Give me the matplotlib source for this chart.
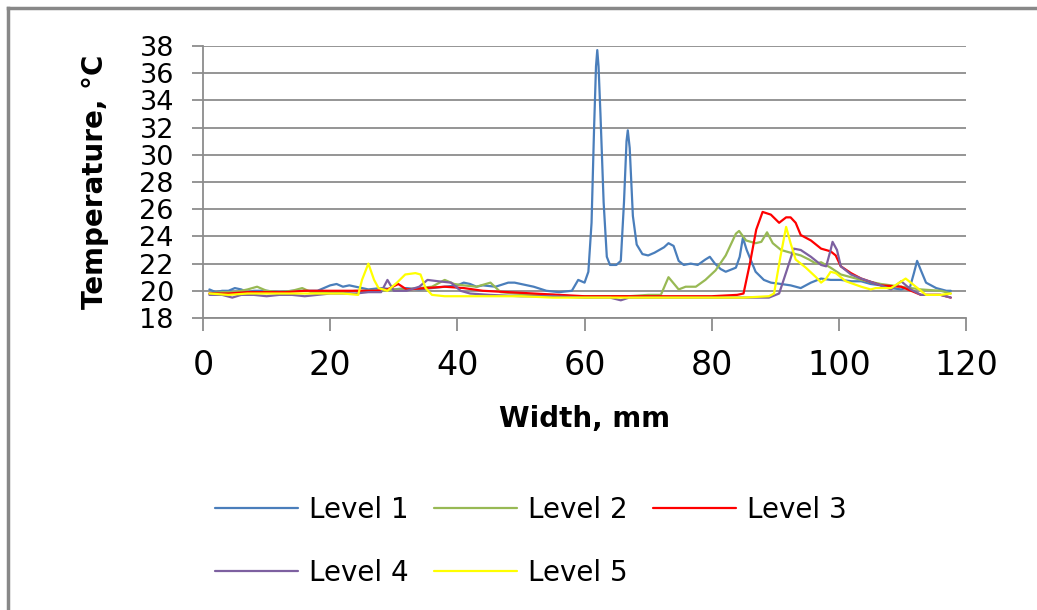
import matplotlib
matplotlib.use("Agg")
import matplotlib.pyplot as plt
from matplotlib.lines import Line2D

# width (mm), temperature (C)
level1 = [(1, 20.1), (2, 19.9), (3, 20.0), (4, 20.0), (5, 20.2), (6, 20.1), (7, 19.9), (8, 20.0),
          (9, 20.0), (10, 20.0), (12, 19.9), (14, 20.0), (16, 20.0), (18, 20.0), (20, 20.4),
          (21, 20.5), (22, 20.3), (23, 20.4), (24, 20.3), (25, 20.2), (26, 20.1), (28, 20.2),
          (30, 20.1), (32, 20.2), (34, 20.1), (36, 20.2), (38, 20.3), (40, 20.4), (41, 20.6),
          (42, 20.5), (43, 20.3), (44, 20.4), (46, 20.3), (48, 20.6), (49, 20.6), (50, 20.5),
          (52, 20.3), (54, 20.0), (56, 19.9), (58, 20.0), (59, 20.8), (60, 20.6), (60.6, 21.4),
          (61.1, 25.0), (61.5, 32.0), (61.8, 36.5), (62, 37.7), (62.2, 36.5), (62.5, 33.0),
          (63, 26.5), (63.5, 22.5), (64, 21.9), (65, 21.9), (65.7, 22.2), (66.2, 26.5),
          (66.6, 31.0), (66.8, 31.8), (67.1, 30.5), (67.6, 25.5), (68.2, 23.4), (69.1, 22.7),
          (70, 22.6), (71, 22.8), (72.5, 23.2), (73.2, 23.5), (74, 23.3), (74.8, 22.2),
          (75.6, 21.9), (76.7, 22.0), (77.8, 21.9), (79, 22.3), (79.7, 22.5), (80.5, 22.0),
          (81.4, 21.6), (82.2, 21.4), (83.8, 21.7), (84.4, 22.5), (84.9, 23.9), (85.5, 23.0),
          (86.2, 22.2), (86.9, 21.4), (88.2, 20.8), (89.3, 20.6), (90.9, 20.5), (92.4, 20.4),
          (94, 20.2), (95.6, 20.6), (97.2, 20.9), (98.7, 20.8), (100.3, 20.8), (102, 20.7),
          (103.5, 20.7), (105, 20.5), (106.6, 20.4), (108.2, 20.2), (109.8, 20.1), (111.2, 20.3),
          (111.8, 21.3), (112.3, 22.2), (112.9, 21.5), (113.7, 20.6), (115.3, 20.2),
          (116.9, 20.0), (117.6, 20.0)]

level2 = [(1, 19.8), (3, 19.9), (5, 19.9), (7, 20.1), (8.5, 20.3), (10, 20.0), (12, 19.9),
          (14, 20.0), (15.6, 20.2), (17, 19.9), (20, 19.9), (22, 19.9), (24, 20.0), (26, 20.0),
          (28, 20.0), (30, 20.1), (32, 20.1), (34, 20.2), (36, 20.3), (38, 20.8), (39.5, 20.5),
          (41, 20.4), (43, 20.3), (45.2, 20.6), (46.8, 19.9), (49, 19.8), (52, 19.7), (55, 19.7),
          (58, 19.6), (61, 19.6), (64, 19.6), (67, 19.6), (70, 19.7), (72, 19.7), (73.2, 21.0),
          (74.8, 20.1), (75.9, 20.3), (77.5, 20.3), (79, 20.8), (80.6, 21.5), (82.2, 22.6),
          (83.8, 24.2), (84.3, 24.4), (85.4, 23.7), (86.9, 23.5), (87.8, 23.6), (88.7, 24.3),
          (89.6, 23.5), (90.9, 23.0), (92.4, 22.8), (94, 22.6), (95.3, 22.3), (96.4, 22.0),
          (97.2, 22.1), (98.7, 21.7), (100.3, 21.2), (103.5, 20.8), (106.6, 20.5),
          (109.8, 20.3), (112.9, 20.1), (116, 20.0), (117.6, 19.8)]

level3 = [(1, 19.8), (4, 19.8), (7, 19.9), (10, 19.9), (13, 19.9), (16, 20.0), (20, 20.0),
          (24, 20.0), (27, 20.0), (29, 20.1), (30.7, 20.5), (32, 20.1), (35, 20.2), (38, 20.3),
          (41, 20.2), (44, 20.0), (48, 19.9), (52, 19.8), (56, 19.7), (60, 19.6), (64, 19.6),
          (68, 19.6), (72, 19.6), (76, 19.6), (80, 19.6), (84, 19.7), (85, 19.8), (86, 22.0),
          (87, 24.5), (88, 25.8), (89.3, 25.6), (90.6, 25.0), (91.7, 25.4), (92.4, 25.4),
          (93.2, 25.0), (94, 24.1), (95.6, 23.7), (97.2, 23.1), (98.7, 22.9), (99.5, 22.6),
          (100.3, 21.8), (101.9, 21.3), (103.5, 20.9), (106.6, 20.4), (109.8, 20.3),
          (112.9, 19.7), (116, 19.7), (117.6, 19.5)]

level4 = [(1, 19.7), (3, 19.7), (4.6, 19.5), (6, 19.7), (8, 19.7), (10, 19.6), (12, 19.7),
          (14, 19.7), (16, 19.6), (18, 19.7), (20, 19.8), (22, 19.8), (24, 19.8), (26, 19.9),
          (28, 19.9), (29, 20.8), (30, 20.0), (32, 20.0), (34, 20.3), (35.3, 20.8), (37, 20.7),
          (39, 20.6), (40.5, 20.0), (42, 19.8), (45, 19.7), (50, 19.6), (55, 19.6), (60, 19.5),
          (64, 19.5), (65.7, 19.3), (67, 19.5), (72, 19.5), (78, 19.5), (84, 19.5), (89, 19.5),
          (90.6, 19.8), (91.8, 21.5), (92.9, 23.1), (94, 23.0), (95.6, 22.5), (97.2, 21.9),
          (98, 21.8), (98.7, 23.0), (99, 23.6), (99.7, 23.0), (100.3, 21.8), (101.9, 21.2),
          (103.5, 20.9), (106.6, 20.4), (108.2, 20.1), (109.8, 20.7), (111.3, 20.1),
          (112.9, 19.7), (116, 19.7), (117.6, 19.5)]

level5 = [(1, 19.8), (4, 19.7), (7, 19.8), (10, 19.8), (13, 19.8), (16, 19.8), (19, 19.8),
          (22, 19.8), (24.4, 19.7), (25, 20.8), (26, 22.0), (26.9, 20.8), (27.6, 20.2),
          (29, 20.0), (30.5, 20.6), (31.8, 21.2), (33.4, 21.3), (34.2, 21.2), (35, 20.2),
          (36, 19.7), (38, 19.6), (42, 19.6), (46, 19.6), (50, 19.6), (55, 19.5), (60, 19.5),
          (65, 19.5), (70, 19.5), (75, 19.5), (80, 19.5), (85, 19.5), (89, 19.6), (89.8, 19.8),
          (90.8, 22.5), (91.7, 24.7), (92.4, 23.5), (93.2, 22.3), (94.8, 21.7), (96.4, 21.0),
          (97.2, 20.6), (98, 20.9), (98.7, 21.4), (99.5, 21.3), (101.1, 20.7), (103.5, 20.3),
          (105, 20.1), (105.8, 20.2), (108.2, 20.2), (110.5, 20.9), (112.1, 20.3),
          (113.7, 19.7), (116, 19.7), (117.6, 19.8)]

series = [("Level 1", level1, "#4a7ebb"), ("Level 2", level2, "#98b954"),
          ("Level 3", level3, "#ff0000"), ("Level 4", level4, "#7d60a0"),
          ("Level 5", level5, "#ffff00")]

plt.rcParams['font.family'] = 'DejaVu Sans'
grey = "#8c8c8c"

fig = plt.figure(figsize=(10.37, 6.10), dpi=100)
ax = fig.add_axes([0.1958, 0.4787, 0.7358, 0.4459])

lines = []
for name, pts, col in series:
    xs = [p[0] for p in pts]
    ys = [p[1] for p in pts]
    ln, = ax.plot(xs, ys, color=col, lw=1.6, label=name,
                  solid_joinstyle="round", solid_capstyle="round")
    lines.append(ln)

ax.set_xlim(0, 120)
ax.set_ylim(18, 38)
ax.set_xticks(range(0, 121, 20))
ax.set_yticks(range(18, 39, 2))
ax.yaxis.grid(True, color=grey, lw=1.3)
ax.set_axisbelow(True)
for s in ["top", "right"]:
    ax.spines[s].set_visible(False)
for s in ["left", "bottom"]:
    ax.spines[s].set_color(grey)
    ax.spines[s].set_linewidth(1.3)
ax.tick_params(axis="y", length=8, width=1.3, color=grey, labelsize=19.5, pad=13)
ax.tick_params(axis="x", length=9, width=1.3, color=grey, labelsize=24, pad=13)

ax.set_xlabel("Width, mm", fontsize=20, fontweight="bold", labelpad=17)
ax.set_ylabel("Temperature, °C", fontsize=20, fontweight="bold", labelpad=22)

# row-wise legend: Level 1-3 on top, Level 4-5 below
order = [0, 3, 1, 4, 2]
ax.legend([lines[i] for i in order], [series[i][0] for i in order],
          loc="upper left", bbox_to_anchor=(0.207, 0.187), bbox_transform=fig.transFigure,
          ncol=3, frameon=False, fontsize=20, handlelength=3.0, handletextpad=0.4,
          columnspacing=0.9, labelspacing=1.25, borderpad=0, borderaxespad=0)

# outer frame: only the left and top edges show
fig.add_artist(Line2D([0.0075, 0.0075], [0, 0.987], transform=fig.transFigure, color="#888888", lw=2.5))
fig.add_artist(Line2D([0.0075, 1.0], [0.987, 0.987], transform=fig.transFigure, color="#888888", lw=2.5))

fig.savefig("out.png", dpi=100, facecolor="white")
